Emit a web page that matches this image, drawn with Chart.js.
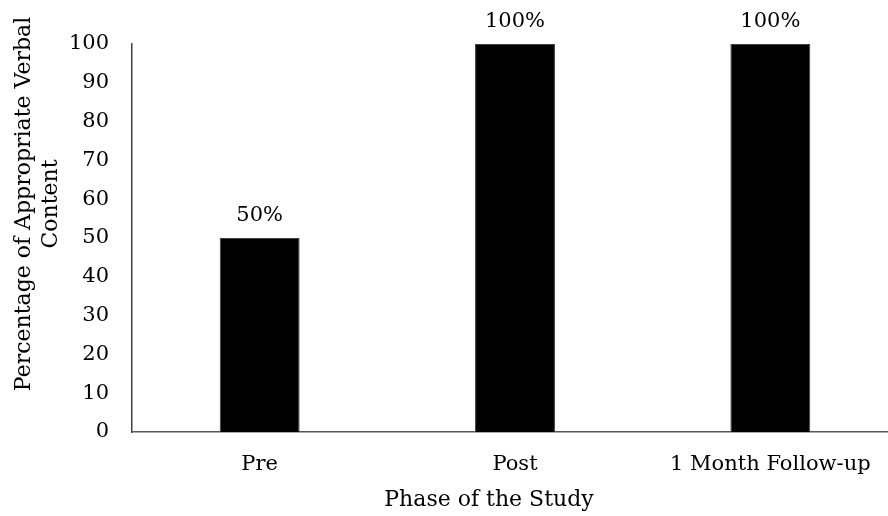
<!DOCTYPE html>
<html>
<head>
<meta charset="utf-8">
<script src="https://cdn.jsdelivr.net/npm/chart.js@4/dist/chart.umd.min.js"></script>
<style>
  html, body { margin: 0; padding: 0; background: #fff; }
  body { width: 888px; height: 516px; overflow: hidden; position: relative; }
  #wrap { position: absolute; left: 0; top: 0; width: 900px; height: 516px; }
</style>
</head>
<body>
<div id="wrap"><canvas id="chart" width="900" height="516"></canvas></div>
<script>
// Phases of the study and the share of appropriate verbal content in each
const phases = ['Pre', 'Post', '1 Month Follow-up'];
const percentages = [50, 100, 100];
const yTicks = [0, 10, 20, 30, 40, 50, 60, 70, 80, 90, 100];
const xTitle = 'Phase of the Study';
const yTitleLines = ['Percentage of Appropriate Verbal', 'Content'];

const FONT = '"DejaVu Serif", "Liberation Serif", serif';
const FONT_SIZE = 21;
const TITLE_SIZE = 22;

// Value labels above each bar, read from the bar elements themselves
const valueLabels = {
  id: 'valueLabels',
  afterDatasetsDraw(chart) {
    const ctx = chart.ctx;
    const meta = chart.getDatasetMeta(0);
    ctx.save();
    ctx.font = FONT_SIZE + 'px ' + FONT;
    ctx.fillStyle = '#000';
    ctx.textAlign = 'center';
    ctx.textBaseline = 'alphabetic';
    meta.data.forEach((bar, i) => {
      ctx.fillText(percentages[i] + '%', bar.x, bar.y - 17);
    });
    ctx.restore();
  }
};

// Axis titles
const axisTitles = {
  id: 'axisTitles',
  afterDraw(chart) {
    const ctx = chart.ctx;
    const area = chart.chartArea;
    ctx.save();
    ctx.font = TITLE_SIZE + 'px ' + FONT;
    ctx.fillStyle = '#000';
    ctx.textAlign = 'center';
    ctx.textBaseline = 'middle';
    ctx.fillText(xTitle, area.left + 357, area.bottom + 68);
    ctx.translate(0, area.top + 160);
    ctx.rotate(-Math.PI / 2);
    ctx.fillText(yTitleLines[0], 0, 24);
    ctx.fillText(yTitleLines[1], 0, 51);
    ctx.restore();
  }
};

new Chart(document.getElementById('chart'), {
  type: 'bar',
  data: {
    labels: phases,
    datasets: [{
      data: percentages,
      backgroundColor: '#000',
      borderColor: '#404040',
      borderWidth: 1,
      categoryPercentage: 1,
      barPercentage: 0.313
    }]
  },
  options: {
    responsive: false,
    animation: false,
    devicePixelRatio: 1,
    layout: { padding: { left: 0, right: 2, top: 44, bottom: 0 } },
    plugins: { legend: { display: false }, tooltip: { enabled: false } },
    scales: {
      x: {
        grid: { display: false, drawTicks: false },
        border: { display: true, color: '#595959', width: 1.5 },
        ticks: { color: '#000', font: { family: FONT, size: FONT_SIZE }, padding: 20 },
        afterFit(scale) { scale.height = 84; }
      },
      y: {
        min: 0,
        max: 100,
        afterBuildTicks(scale) { scale.ticks = yTicks.map(v => ({ value: v })); },
        grid: { display: false, drawTicks: false },
        border: { display: true, color: '#404040', width: 1.5 },
        ticks: { color: '#000', font: { family: FONT, size: FONT_SIZE }, padding: 23 },
        afterFit(scale) { scale.width = 132; }
      }
    }
  },
  plugins: [valueLabels, axisTitles]
});
</script>
</body>
</html>
